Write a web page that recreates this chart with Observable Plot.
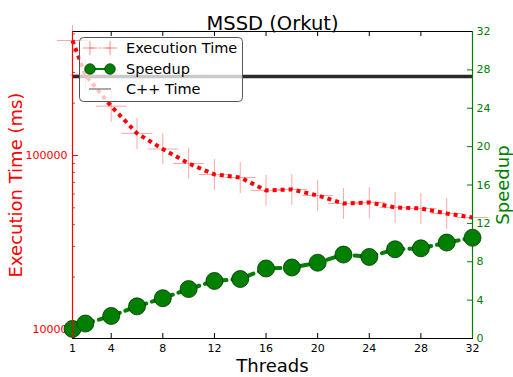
<!DOCTYPE html>
<html>
<head>
<meta charset="utf-8">
<script src="https://cdn.jsdelivr.net/npm/d3@7"></script>
<script src="https://cdn.jsdelivr.net/npm/@observablehq/plot@0.6"></script>
<style>
  body { margin: 0; background: #fff; font-family: "DejaVu Sans", sans-serif; }
  #wrap { position: relative; width: 513px; height: 377px; }
  #wrap > svg { position: absolute; left: 0; top: 0; }
</style>
</head>
<body>
<div id="wrap"></div>
<script>
const threads = [1, 2, 4, 6, 8, 10, 12, 14, 16, 18, 20, 22, 24, 26, 28, 30, 32];
const execTime = [458000, 290000, 192000, 134000, 109000, 90000, 77800, 74700, 63000, 63800, 58900, 53000, 53700, 50300, 49600, 46400, 44000];
const speedup = [1.0, 1.56, 2.35, 3.35, 4.2, 5.15, 6.0, 6.2, 7.3, 7.4, 7.9, 8.75, 8.5, 9.3, 9.4, 10.0, 10.5];
const cppTime = 284000;
const xTicks = [1, 4, 8, 12, 16, 20, 24, 28, 32];
const timeMajorTicks = [10000, 100000];
const timeMinorTicks = [9000, 20000, 30000, 40000, 50000, 60000, 70000, 80000, 90000, 200000, 300000, 400000, 500000];
const speedTicks = [0, 4, 8, 12, 16, 20, 24, 28, 32];
const legendLabels = ["Execution Time", "Speedup", "C++ Time"];

const W = 513, H = 377, ML = 72, MR = 41, MT = 31, MB = 39;
const PW = W - ML - MR, PH = H - MT - MB;
const RED = "#ff0000", GREEN = "#007f00";

const rows = threads.map((t, i) => ({t, time: execTime[i], sp: speedup[i]}));

const common = {
  width: W, height: H, marginLeft: ML, marginRight: MR, marginTop: MT, marginBottom: MB,
  style: {fontFamily: "DejaVu Sans, sans-serif", background: "transparent", overflow: "visible"}
};

const p1 = Plot.plot({
  ...common,
  x: {domain: [1, 32]},
  y: {type: "log", domain: [8875, 516000]},
  marks: [
    Plot.axisX({ticks: xTicks, tickSize: 0, tickPadding: 6, fontSize: 11, fill: "#000", label: null}),
    Plot.axisY({ticks: timeMajorTicks, tickFormat: d => String(d), tickSize: 0, tickPadding: 5, fontSize: 11, color: RED, label: null}),
    Plot.ruleY(timeMajorTicks, {stroke: RED, insetRight: PW - 6}),
    Plot.ruleY(timeMinorTicks, {stroke: "#666", insetRight: PW - 3}),
    Plot.ruleX(xTicks, {stroke: "#000", insetTop: PH - 5}),
    Plot.ruleX(xTicks, {stroke: "#000", insetBottom: PH - 5}),
    Plot.ruleY([cppTime], {stroke: "#2a2a2a", strokeWidth: 3.5}),
    Plot.dot(rows, {x: "t", y: "time", symbol: "plus", r: 10, stroke: RED, strokeOpacity: 0.35, strokeWidth: 1}),
    Plot.line(rows, {x: "t", y: "time", stroke: RED, strokeWidth: 4, strokeDasharray: "4,4", strokeLinecap: "butt"}),
    Plot.text(["MSSD (Orkut)"], {frameAnchor: "top", dy: -15, fontSize: 19.5, fill: "#000"}),
    Plot.text(["Threads"], {frameAnchor: "bottom", dy: 33, fontSize: 18, fill: "#000"}),
    Plot.text(["Execution Time (ms)"], {frameAnchor: "left", textAnchor: "middle", dx: -56, rotate: -90, fontSize: 18, fill: RED})
  ]
});

const p2 = Plot.plot({
  ...common,
  x: {domain: [1, 32], axis: null},
  y: {domain: [0, 32]},
  marks: [
    Plot.axisY({anchor: "right", ticks: speedTicks, tickSize: 0, tickPadding: 4, fontSize: 11, color: GREEN, label: null}),
    Plot.ruleY(speedTicks, {stroke: GREEN, insetLeft: PW - 5}),
    Plot.line(rows, {x: "t", y: "sp", stroke: GREEN, strokeWidth: 4, strokeDasharray: "8,6"}),
    Plot.dot(rows, {x: "t", y: "sp", r: 8.5, fill: GREEN, stroke: "#003300", strokeWidth: 0.8}),
    Plot.frame({stroke: "#000", strokeWidth: 1}),
    Plot.ruleX([1], {stroke: RED, strokeWidth: 1.2}),
    Plot.ruleX([32], {stroke: GREEN, strokeWidth: 1.2}),
    Plot.text(["Speedup"], {frameAnchor: "right", textAnchor: "middle", dx: 31, rotate: -90, fontSize: 18, fill: GREEN})
  ]
});

const wrap = document.getElementById("wrap");
wrap.appendChild(p1);
wrap.appendChild(p2);

// legend
const lg = d3.select(wrap).append("svg").attr("width", W).attr("height", H)
  .style("font-family", "DejaVu Sans, sans-serif");
lg.append("rect").attr("x", 79.5).attr("y", 37.5).attr("width", 163).attr("height", 64).attr("rx", 4)
  .attr("fill", "#fff").attr("fill-opacity", 0.75).attr("stroke", "#555").attr("stroke-width", 1);
const rowY = [48, 69, 89];
lg.append("line").attr("x1", 90).attr("x2", 110).attr("y1", rowY[0]).attr("y2", rowY[0])
  .attr("stroke", RED).attr("stroke-opacity", 0.35).attr("stroke-dasharray", "4,4");
[90, 110].forEach(x => {
  lg.append("path").attr("d", `M${x-7},${rowY[0]}H${x+7}M${x},${rowY[0]-7}V${rowY[0]+7}`)
    .attr("stroke", RED).attr("stroke-opacity", 0.45).attr("fill", "none");
});
lg.append("line").attr("x1", 90).attr("x2", 110).attr("y1", rowY[1]).attr("y2", rowY[1])
  .attr("stroke", GREEN).attr("stroke-width", 2);
[90, 110].forEach(x => {
  lg.append("circle").attr("cx", x).attr("cy", rowY[1]).attr("r", 5.3).attr("fill", GREEN).attr("stroke", "#003300").attr("stroke-width", 0.7);
});
lg.append("line").attr("x1", 89).attr("x2", 111).attr("y1", rowY[2]).attr("y2", rowY[2])
  .attr("stroke", "#555").attr("stroke-width", 1);
legendLabels.forEach((s, i) => {
  lg.append("text").attr("x", 126).attr("y", rowY[i]).attr("dy", "0.35em").attr("font-size", 14.5).attr("fill", "#000").text(s);
});
</script>
</body>
</html>
